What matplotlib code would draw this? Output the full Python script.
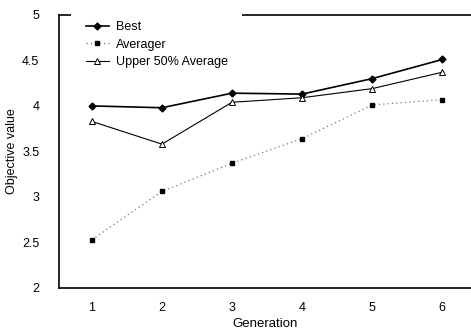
import matplotlib.pyplot as plt

plt.rcParams['font.family'] = ['Liberation Sans', 'DejaVu Sans']

# values
generations = [1, 2, 3, 4, 5, 6]
best = [4.00, 3.98, 4.14, 4.13, 4.30, 4.51]
averager = [2.53, 3.06, 3.37, 3.64, 4.01, 4.07]
upper_half = [3.83, 3.58, 4.04, 4.09, 4.19, 4.37]
y_ticks = [2, 2.5, 3, 3.5, 4, 4.5, 5]

fig = plt.figure(figsize=(4.71, 3.31), dpi=100)
ax = fig.add_axes([0.125, 0.13, 0.875, 0.825])

ax.plot(generations, best, color='black', lw=1.2, marker='D', ms=3.5, label='Best')
ax.plot(generations, averager, color='#777777', lw=0.9, ls=(0, (1, 2.5)),
        marker='s', ms=3.5, mfc='black', mec='black', label='Averager')
ax.plot(generations, upper_half, color='black', lw=0.8, marker='^', ms=4,
        mfc='white', mec='black', mew=0.7, label='Upper 50% Average')

ax.set_xlim(0.53, 6.41)
ax.set_ylim(2, 5)
ax.set_xticks(generations)
ax.set_yticks(y_ticks)
ax.set_yticklabels(['2', '2.5', '3', '3.5', '4', '4.5', '5'])
ax.tick_params(length=0, labelsize=9)
ax.tick_params(axis='x', pad=10)
ax.tick_params(axis='y', pad=14)

ax.spines['right'].set_visible(False)
for s in ['left', 'bottom', 'top']:
    ax.spines[s].set_linewidth(1.2)

ax.set_xlabel('Generation', fontsize=9.5, labelpad=3)
ax.set_ylabel('Objective value', fontsize=9, labelpad=3)

# legend box sits over the top spine, as in the reference
leg = ax.legend(loc='upper left', bbox_to_anchor=(0.03, 1.03), fontsize=9,
                frameon=True, framealpha=1, edgecolor='white',
                handlelength=1.9, handletextpad=0.5, labelspacing=0.45,
                borderaxespad=0, borderpad=1.15)
leg.get_frame().set_linewidth(0)
leg.set_zorder(10)

fig.savefig('out.png', dpi=100)
